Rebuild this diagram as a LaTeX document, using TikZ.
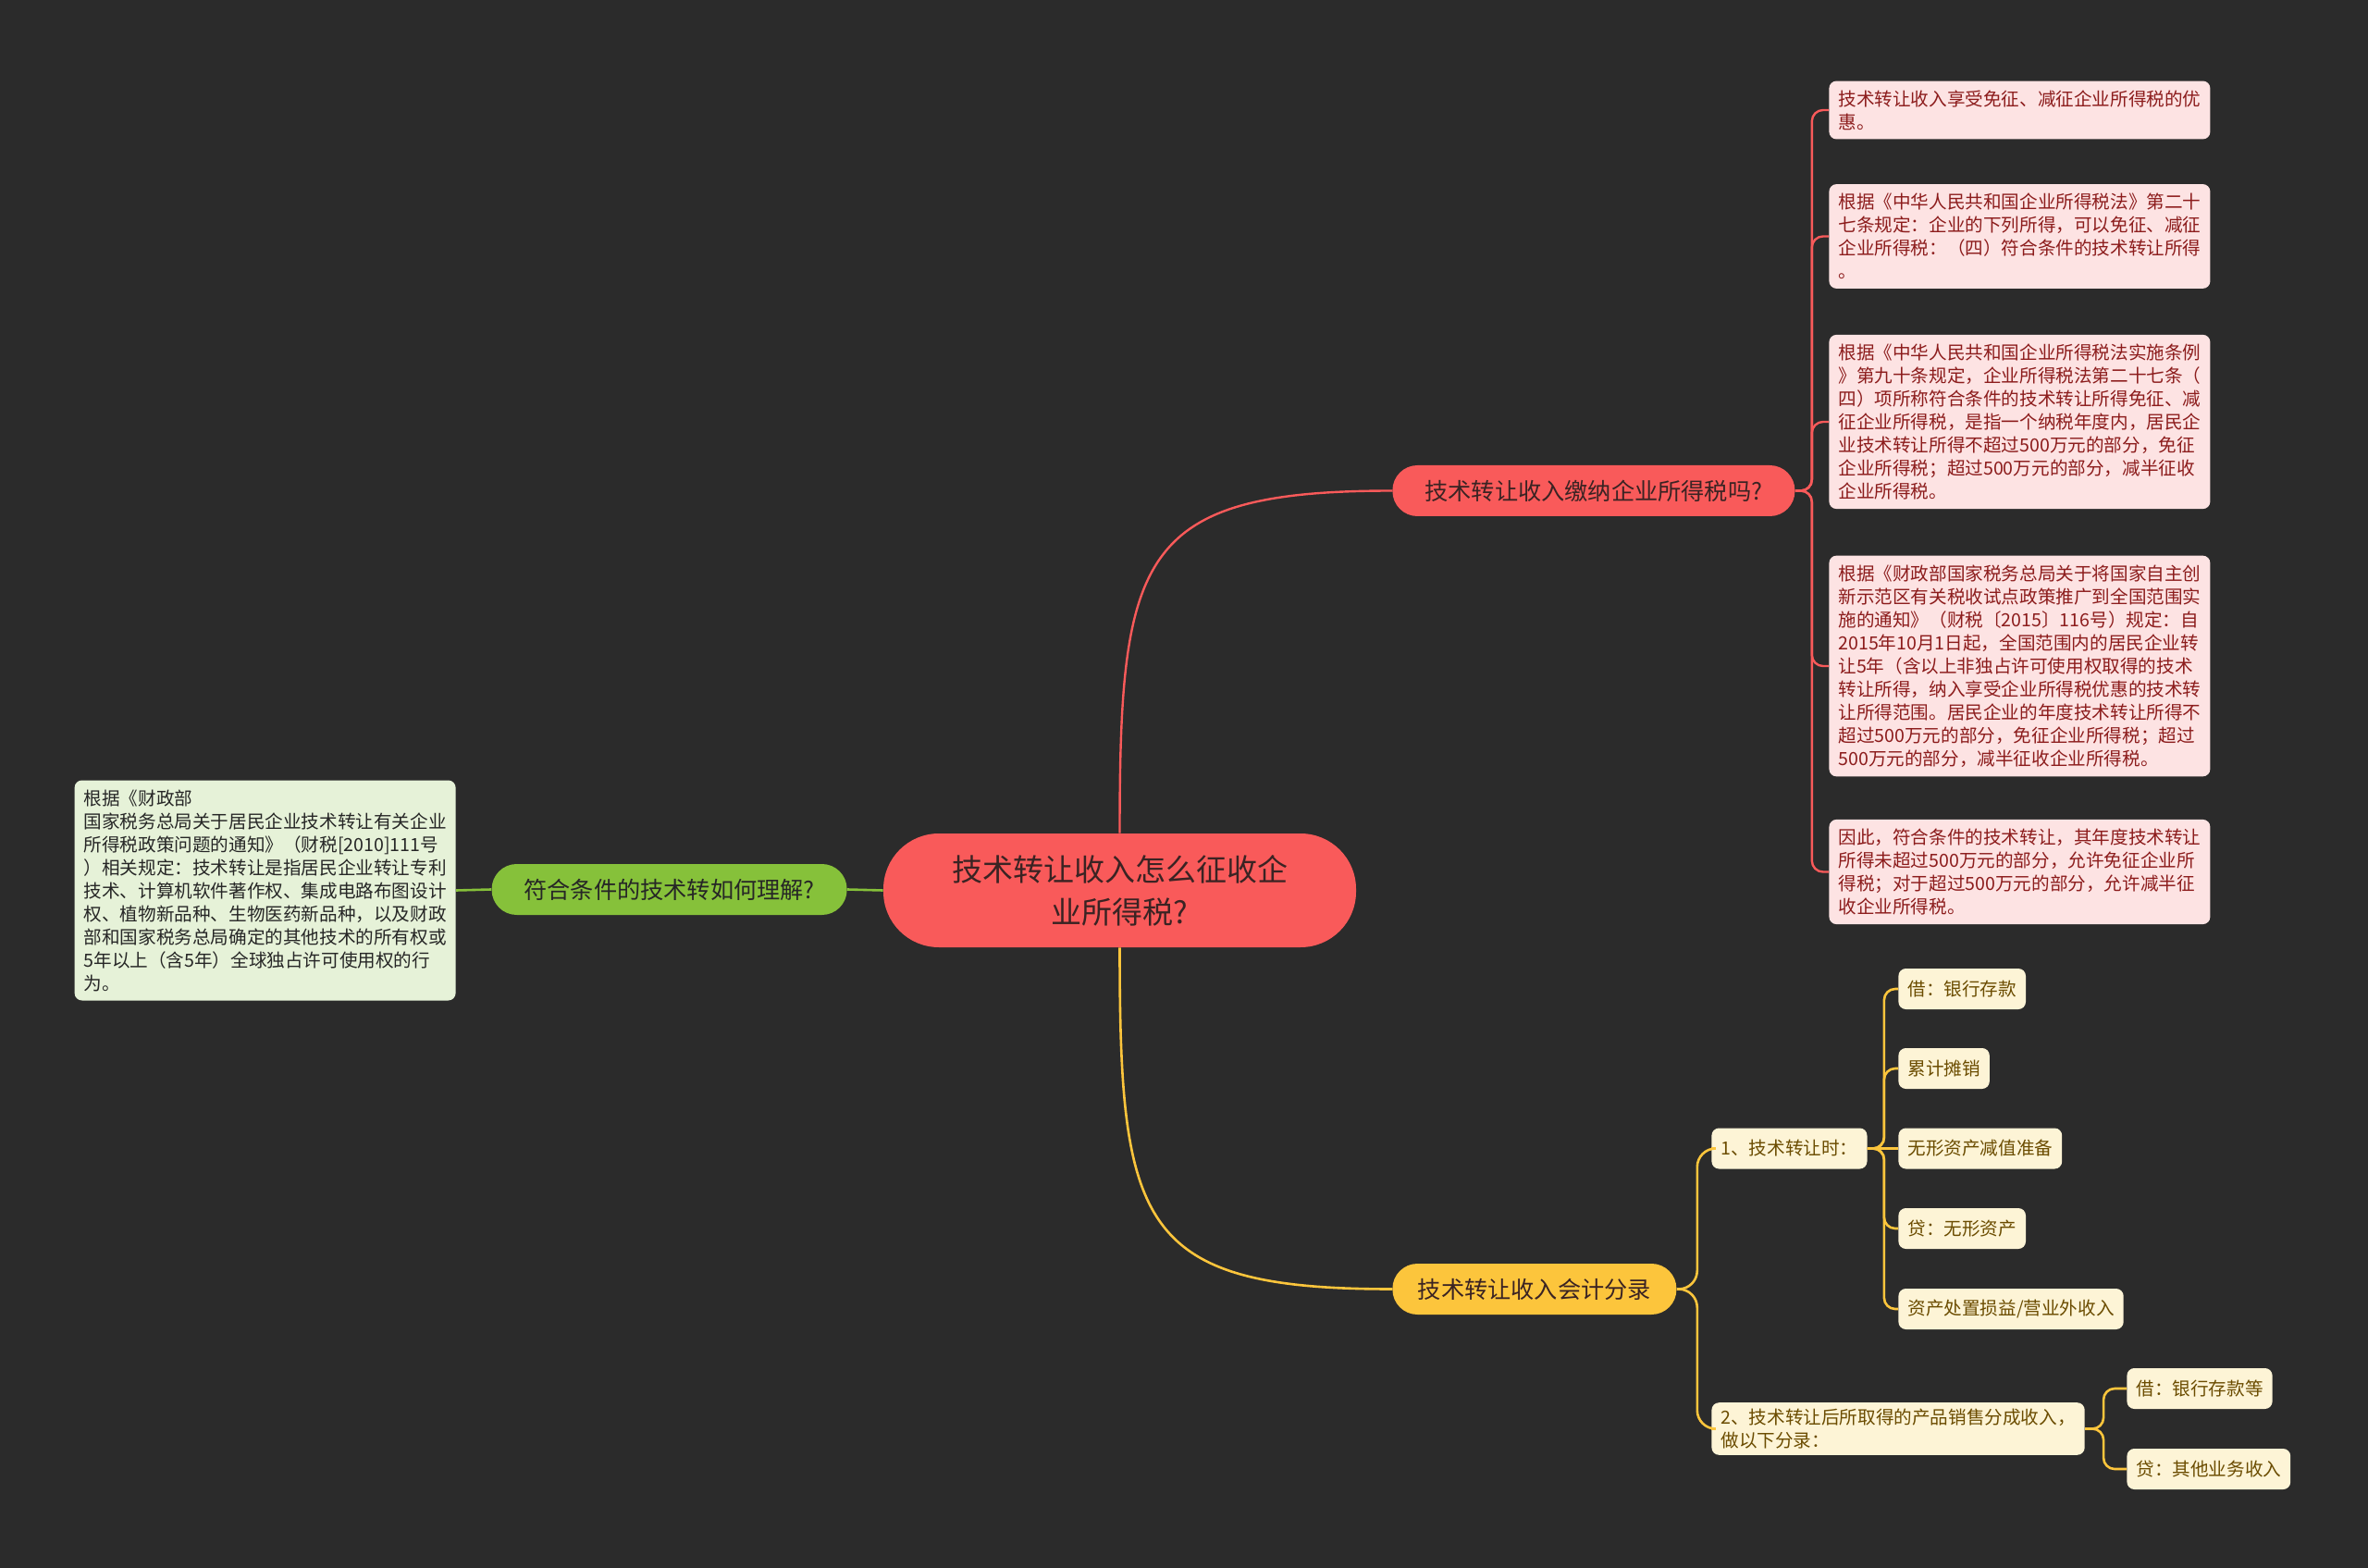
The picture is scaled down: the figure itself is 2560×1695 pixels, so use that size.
\documentclass[tikz,border=0pt]{standalone}
\usepackage{fontspec}
\setmainfont{Noto Sans CJK SC}
\usepackage{xcolor}
\definecolor{bgc}{HTML}{2B2B2B}
\definecolor{mred}{HTML}{F95A5A}
\definecolor{lred}{HTML}{FDE3E3}
\definecolor{tred}{HTML}{8C1C1C}
\definecolor{mgreen}{HTML}{86C13A}
\definecolor{lgreen}{HTML}{E6F2D8}
\definecolor{myel}{HTML}{FCC53C}
\definecolor{lyel}{HTML}{FDF4D6}
\definecolor{tyel}{HTML}{6B4C00}
\definecolor{tdark}{HTML}{3A2323}

\begin{document}
\begin{tikzpicture}[x=0.5pt,y=-0.5pt,
  topic/.style={fill=mred,text=tdark,rounded corners=30pt,minimum width=255.5pt,
                minimum height=61.5pt,align=center,font=\fontsize{16.5pt}{23pt}\selectfont},
  subtopic/.style={rounded corners=13.5pt,minimum height=27.5pt,inner xsep=10pt,
                   font=\fontsize{12.6pt}{15pt}\selectfont},
  leaf/.style={rounded corners=4pt,inner xsep=5pt,inner ysep=5pt,text width=196pt,
               align=left,font=\fontsize{9.8pt}{12.5pt}\selectfont},
  entry/.style={rounded corners=4pt,fill=lyel,text=tyel,inner xsep=5pt,minimum height=22pt,
                align=left,font=\fontsize{9.8pt}{12.5pt}\selectfont},
  redlink/.style={draw=mred,line width=1.2pt},
  yellink/.style={draw=myel,line width=1.3pt},
  greenlink/.style={draw=mgreen,line width=1.3pt}
]
\useasboundingbox (0,0) rectangle (2560,1695);
\fill[bgc] (0,0) rectangle (2560,1695);

\node[topic] (ctr) at (1210.5,962.5) {技术转让收入怎么征收企\\业所得税?};

\node[subtopic,fill=mred,text=tdark,minimum width=217.5pt,anchor=west] (rb) at (1505,530.5) {技术转让收入缴纳企业所得税吗?};
\node[subtopic,fill=mgreen,text=black!85,minimum width=192pt,anchor=east] (gb) at (916,961.5) {符合条件的技术转如何理解?};
\node[subtopic,fill=myel,text=tdark,minimum width=153.5pt,anchor=west] (yb) at (1505,1393.5) {技术转让收入会计分录};

% left side
\node[leaf,fill=lgreen,text=black!85,anchor=east] (gl) at (493,962.5) {根据《财政部\\国家税务总局关于居民企业技术转让有关企业\\所得税政策问题的通知》（财税[2010]111号\\）相关规定：技术转让是指居民企业转让专利\\技术、计算机软件著作权、集成电路布图设计\\权、植物新品种、生物医药新品种，以及财政\\部和国家税务总局确定的其他技术的所有权或\\5年以上（含5年）全球独占许可使用权的行\\为。};

% red leaves
\node[leaf,fill=lred,text=tred,anchor=west] (r1) at (1977,119) {技术转让收入享受免征、减征企业所得税的优\\惠。};
\node[leaf,fill=lred,text=tred,anchor=west] (r2) at (1977,255.5) {根据《中华人民共和国企业所得税法》第二十\\七条规定：企业的下列所得，可以免征、减征\\企业所得税：（四）符合条件的技术转让所得\\。};
\node[leaf,fill=lred,text=tred,anchor=west] (r3) at (1977,456) {根据《中华人民共和国企业所得税法实施条例\\》第九十条规定，企业所得税法第二十七条（\\四）项所称符合条件的技术转让所得免征、减\\征企业所得税，是指一个纳税年度内，居民企\\业技术转让所得不超过500万元的部分，免征\\企业所得税；超过500万元的部分，减半征收\\企业所得税。};
\node[leaf,fill=lred,text=tred,anchor=west] (r4) at (1977,720) {根据《财政部国家税务总局关于将国家自主创\\新示范区有关税收试点政策推广到全国范围实\\施的通知》（财税〔2015〕116号）规定：自\\2015年10月1日起，全国范围内的居民企业转\\让5年（含以上非独占许可使用权取得的技术\\转让所得，纳入享受企业所得税优惠的技术转\\让所得范围。居民企业的年度技术转让所得不\\超过500万元的部分，免征企业所得税；超过\\500万元的部分，减半征收企业所得税。};
\node[leaf,fill=lred,text=tred,anchor=west] (r5) at (1977,942.5) {因此，符合条件的技术转让，其年度技术转让\\所得未超过500万元的部分，允许免征企业所\\得税；对于超过500万元的部分，允许减半征\\收企业所得税。};

% yellow side
\node[entry,anchor=west] (s1) at (1850,1241.5) {1、技术转让时：};
\node[entry,anchor=west] (a1) at (2052,1069) {借：银行存款};
\node[entry,anchor=west] (a2) at (2052,1155) {累计摊销};
\node[entry,anchor=west] (a3) at (2052,1241.5) {无形资产减值准备};
\node[entry,anchor=west] (a4) at (2052,1328) {贷：无形资产};
\node[entry,anchor=west] (a5) at (2052,1415) {资产处置损益/营业外收入};
\node[entry,anchor=west] (s2) at (1850,1544.5) {2、技术转让后所取得的产品销售分成收入，\\做以下分录：};
\node[entry,anchor=west] (b1) at (2299,1501) {借：银行存款等};
\node[entry,anchor=west] (b2) at (2299,1588) {贷：其他业务收入};

\draw[redlink] (ctr.north) .. controls +(0,-300) and +(-275,0) .. (rb.west);
\draw[yellink] (ctr.south) .. controls +(0,300) and +(-275,0) .. (yb.west);
\draw[greenlink] (ctr.west) -- (gb.east);
\draw[greenlink] (gb.west) -- (gl.east);
\foreach \n in {r1,r2,r3,r4,r5}
  \draw[redlink,rounded corners=6pt] (rb.east) -- ++(18,0) |- (\n.west);
\foreach \n in {s1,s2}
  \draw[yellink,rounded corners=10pt] (yb.east) -- ++(22,0) |- (\n.west);
\foreach \n in {a1,a2,a4,a5}
  \draw[yellink,rounded corners=6pt] (s1.east) -- ++(18,0) |- (\n.west);
\draw[yellink] (s1.east) -- (a3.west);
\foreach \n in {b1,b2}
  \draw[yellink,rounded corners=6pt] (s2.east) -- ++(20,0) |- (\n.west);
\end{tikzpicture}
\end{document}
